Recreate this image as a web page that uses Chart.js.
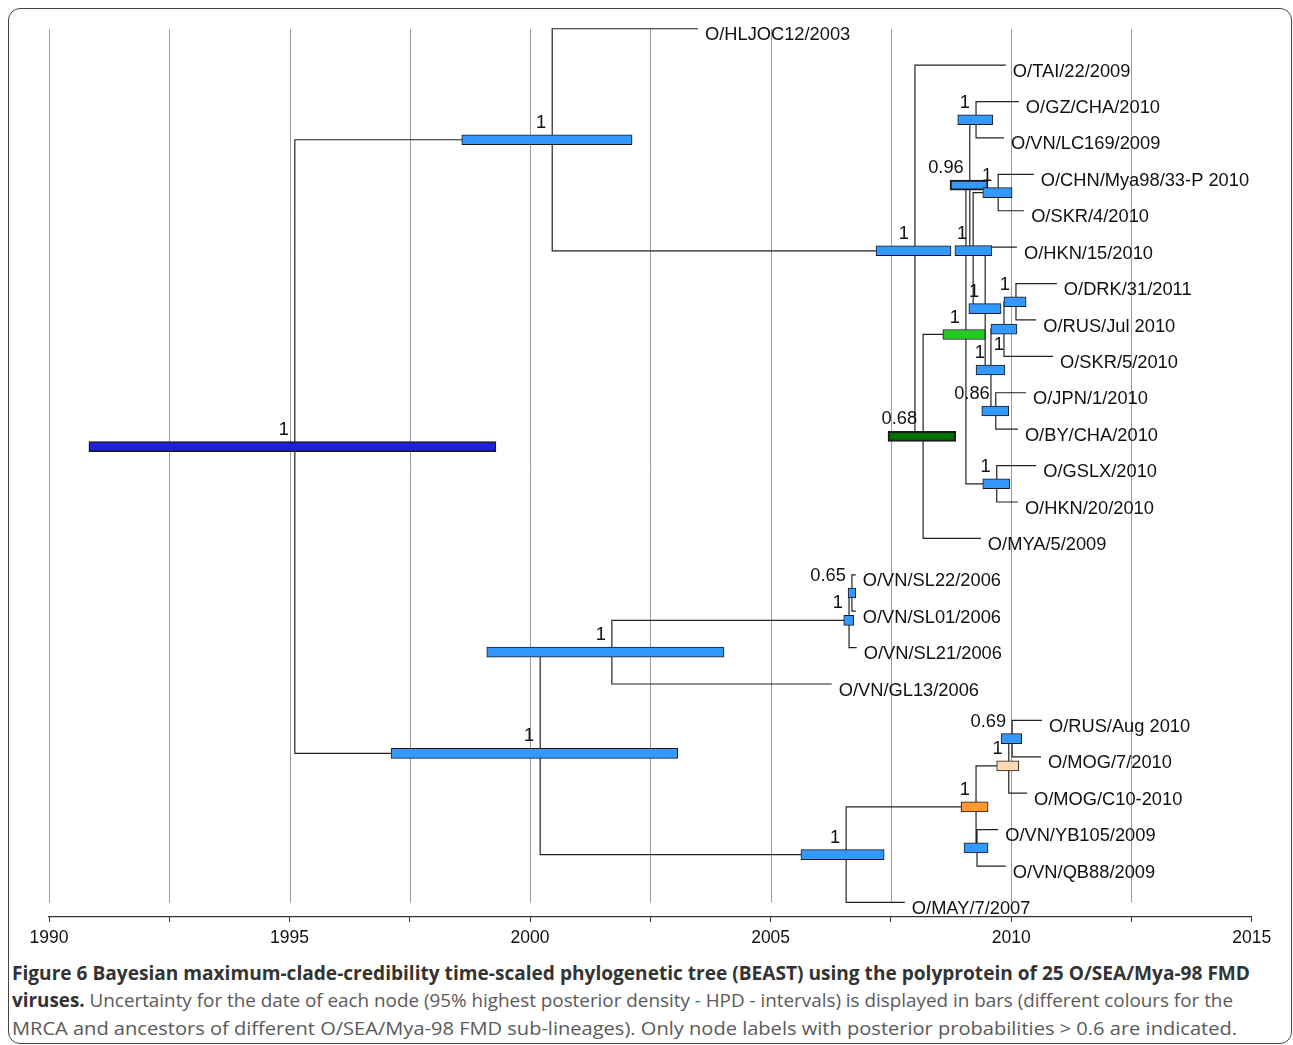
<!DOCTYPE html>
<html>
<head>
<meta charset="utf-8">
<title>Figure 6</title>
<script src="https://cdn.jsdelivr.net/npm/chart.js@4.4.1/dist/chart.umd.min.js"></script>
<style>
  html, body { margin: 0; padding: 0; background: #fff; }
  body { width: 1293px; height: 1045px; overflow: hidden; position: relative; }
  #frame { position: absolute; left: 8px; top: 8px; width: 1284px; height: 1036px; box-sizing: border-box;
           border: 1.5px solid #444; border-radius: 12px; }
  #chartBox { position: absolute; left: 0; top: 0; width: 1293px; height: 953px; }
  .cap { position: absolute; left: 12px; white-space: nowrap; font-family: "Open Sans", sans-serif;
         font-size: 19px; line-height: 1; color: #5a5a5a; transform-origin: 0 50%; }
  .cap b { color: #333; font-weight: 700; }
</style>
</head>
<body>
<div id="frame"></div>
<div id="chartBox"><canvas id="tree"></canvas></div>
<div class="cap" data-w="1238" style="top:964px"><b>Figure 6 Bayesian maximum-clade-credibility time-scaled phylogenetic tree (BEAST) using the polyprotein of 25 O/SEA/Mya-98 FMD</b></div>
<div class="cap" data-w="1221" style="top:991px"><b>viruses.</b> Uncertainty for the date of each node (95% highest posterior density - HPD - intervals) is displayed in bars (different colours for the</div>
<div class="cap" data-w="1225" style="top:1019px">MRCA and ancestors of different O/SEA/Mya-98 FMD sub-lineages). Only node labels with posterior probabilities &gt; 0.6 are indicated.</div>

<script>
// tips, top to bottom
const tipNames = ['O/HLJOC12/2003', 'O/TAI/22/2009', 'O/GZ/CHA/2010', 'O/VN/LC169/2009',
  'O/CHN/Mya98/33-P 2010', 'O/SKR/4/2010', 'O/HKN/15/2010', 'O/DRK/31/2011', 'O/RUS/Jul 2010',
  'O/SKR/5/2010', 'O/JPN/1/2010', 'O/BY/CHA/2010', 'O/GSLX/2010', 'O/HKN/20/2010', 'O/MYA/5/2009',
  'O/VN/SL22/2006', 'O/VN/SL01/2006', 'O/VN/SL21/2006', 'O/VN/GL13/2006', 'O/RUS/Aug 2010',
  'O/MOG/7/2010', 'O/MOG/C10-2010', 'O/VN/YB105/2009', 'O/VN/QB88/2009', 'O/MAY/7/2007'];
const tipDates = [2003.49, 2009.89, 2010.16, 2009.85, 2010.47, 2010.27, 2010.12, 2010.95, 2010.52,
  2010.87, 2010.31, 2010.14, 2010.52, 2010.14, 2009.37, 2006.77, 2006.77, 2006.79, 2006.27, 2010.64,
  2010.62, 2010.33, 2009.73, 2009.89, 2007.79];

// internal nodes (children: tip index or node name)
const nodeNames = ['root', 'A', 'B', 'C', 'D', 'n096', 'gzvn', 'F', 'chnskr', 'n8', 'n12', 'n10',
  'drkrus', 'jpnby', 'gslx', 'E', 'G', 'sl', 'sl2201', 'H', 'orange', 'peach', 'n069', 'ybqb'];
const nodeChildren = [['A', 'E'], [0, 'B'], [1, 'C'], ['D', 14], ['n096', 'gslx'], ['gzvn', 'F'],
  [2, 3], ['chnskr', 'n8'], [4, 5], [6, 'n12'], ['n10', 'jpnby'], ['drkrus', 9], [7, 8], [10, 11],
  [12, 13], ['G', 'H'], ['sl', 18], ['sl2201', 17], [15, 16], ['orange', 24], ['peach', 'ybqb'],
  ['n069', 21], [19, 20], [22, 23]];
const nodeDates = [1995.11, 2000.46, 2008.00, 2008.17, 2009.06, 2009.14, 2009.27, 2009.21, 2009.73,
  2009.46, 2009.58, 2009.85, 2010.10, 2009.68, 2009.70, 2000.21, 2001.70, 2006.63, 2006.69, 2006.57,
  2009.27, 2009.95, 2010.02, 2009.29];
const hpdLow = [1990.83, 1998.58, 2007.19, 2007.44, 2008.58, 2008.73, 2008.89, 2008.83, 2009.41,
  2009.12, 2009.27, 2009.58, 2009.85, 2009.39, 2009.41, 1997.11, 1999.10, 2006.52, 2006.61, 2005.63,
  2008.96, 2009.70, 2009.79, 2009.02];
const hpdHigh = [1999.29, 2002.12, 2008.75, 2008.85, 2009.46, 2009.52, 2009.62, 2009.60, 2010.02,
  2009.79, 2009.87, 2010.12, 2010.31, 2009.95, 2009.97, 2003.07, 2004.03, 2006.73, 2006.77, 2007.36,
  2009.52, 2010.16, 2010.22, 2009.52];
const posterior = ['1', '1', '1', '0.68', '1', '0.96', '1', '1', '1', '1', '1', '1', '1', '0.86', '1',
  '1', '1', '1', '0.65', '1', '1', '1', '0.69', ''];
const axisTicks = [1990, 1995, 2000, 2005, 2010, 2015];

// styling
const barFill = { root: '#1f1fe0', C: '#007000', D: '#22cc22', orange: '#ff9933', peach: '#ffd9b5' };
const thickBorder = { n096: 2, C: 2, root: 1.5 };
const labelBelow = ['n10'];

const nodeIndex = {};
nodeNames.forEach((n, i) => nodeIndex[n] = i);
const nodeY = [];
function yOf(c) {
  if (typeof c === 'number') return c;
  const i = nodeIndex[c];
  if (nodeY[i] === undefined) {
    const kids = nodeChildren[i];
    nodeY[i] = (yOf(kids[0]) + yOf(kids[1])) / 2;
  }
  return nodeY[i];
}
function dateOf(c) { return typeof c === 'number' ? tipDates[c] : nodeDates[nodeIndex[c]]; }
nodeNames.forEach(n => yOf(n));

const branchPoints = [];
nodeNames.forEach((n, i) => {
  const a = nodeChildren[i][0], b = nodeChildren[i][1];
  const t = nodeDates[i];
  branchPoints.push({x: dateOf(a), y: yOf(a)}, {x: t, y: yOf(a)}, {x: t, y: yOf(b)},
                    {x: dateOf(b), y: yOf(b)}, {x: t, y: null});
});
const hpdBars = nodeNames.map((n, i) => ({x: [hpdLow[i], hpdHigh[i]], y: nodeY[i]}));

const treeText = {
  id: 'treeText',
  beforeDatasetsDraw(chart) {
    const {ctx, scales: {x, y}} = chart;
    ctx.save();
    ctx.strokeStyle = '#9c9c9c';
    ctx.lineWidth = 1;
    x.ticks.forEach(tk => {
      if (tk.value >= 2015) return;
      const px = Math.round(x.getPixelForValue(tk.value)) + 0.5;
      ctx.beginPath();
      ctx.moveTo(px, y.getPixelForValue(0));
      ctx.lineTo(px, y.getPixelForValue(tipNames.length - 1));
      ctx.stroke();
    });
    ctx.restore();
  },
  afterDatasetsDraw(chart) {
    const {ctx, scales: {x, y}} = chart;
    ctx.save();
    ctx.font = '18.3px "Liberation Sans", Arial, sans-serif';
    ctx.fillStyle = '#111';
    ctx.textBaseline = 'middle';
    ctx.textAlign = 'left';
    tipNames.forEach((name, i) => {
      ctx.fillText(name, x.getPixelForValue(tipDates[i]) + 7, y.getPixelForValue(i) + 6.5);
    });
    ctx.textAlign = 'right';
    nodeNames.forEach((n, i) => {
      if (!posterior[i]) return;
      const below = labelBelow.includes(n);
      ctx.fillText(posterior[i], x.getPixelForValue(nodeDates[i]) - (below ? 0 : 6),
                   y.getPixelForValue(nodeY[i]) + (below ? 16 : -17));
    });
    ctx.restore();
  }
};

new Chart(document.getElementById('tree'), {
  type: 'scatter',
  data: {
    datasets: [{
      type: 'bar',
      indexAxis: 'y',
      data: hpdBars,
      backgroundColor: nodeNames.map(n => barFill[n] || '#3399ff'),
      borderColor: '#1a1a1a',
      borderWidth: nodeNames.map(n => thickBorder[n] || 1),
      borderSkipped: false,
      barThickness: 10,
      grouped: false,
      order: 0
    }, {
      type: 'line',
      data: branchPoints,
      borderColor: '#222',
      borderWidth: 1.2,
      pointRadius: 0,
      tension: 0,
      fill: false,
      spanGaps: false,
      order: 1
    }]
  },
  options: {
    responsive: true,
    maintainAspectRatio: false,
    animation: false,
    events: [],
    layout: { padding: { left: 49, right: 41.3, top: 28, bottom: 0 } },
    plugins: { legend: { display: false }, tooltip: { enabled: false } },
    scales: {
      x: {
        type: 'linear', min: 1990, max: 2015, offset: false,
        afterFit: s => { s.height = 36; },
        ticks: {
          stepSize: 2.5, autoSkip: false, maxRotation: 0, padding: 6, color: '#111',
          font: { family: '"Liberation Sans", Arial, sans-serif', size: 17.5 },
          callback: v => axisTicks.includes(v) ? String(v) : ''
        },
        grid: { drawOnChartArea: false, drawTicks: true, tickLength: 5, tickColor: '#333', offset: false },
        border: { display: true, color: '#333', width: 1.2 }
      },
      y: { type: 'linear', min: -0.02, max: 24.4, reverse: true, display: false, offset: false,
           grid: { offset: false } }
    }
  },
  plugins: [treeText]
});

document.querySelectorAll('.cap').forEach(el => {
  const w = el.getBoundingClientRect().width;
  el.style.transform = 'scaleX(' + (el.dataset.w / w) + ')';
});
</script>
</body>
</html>
